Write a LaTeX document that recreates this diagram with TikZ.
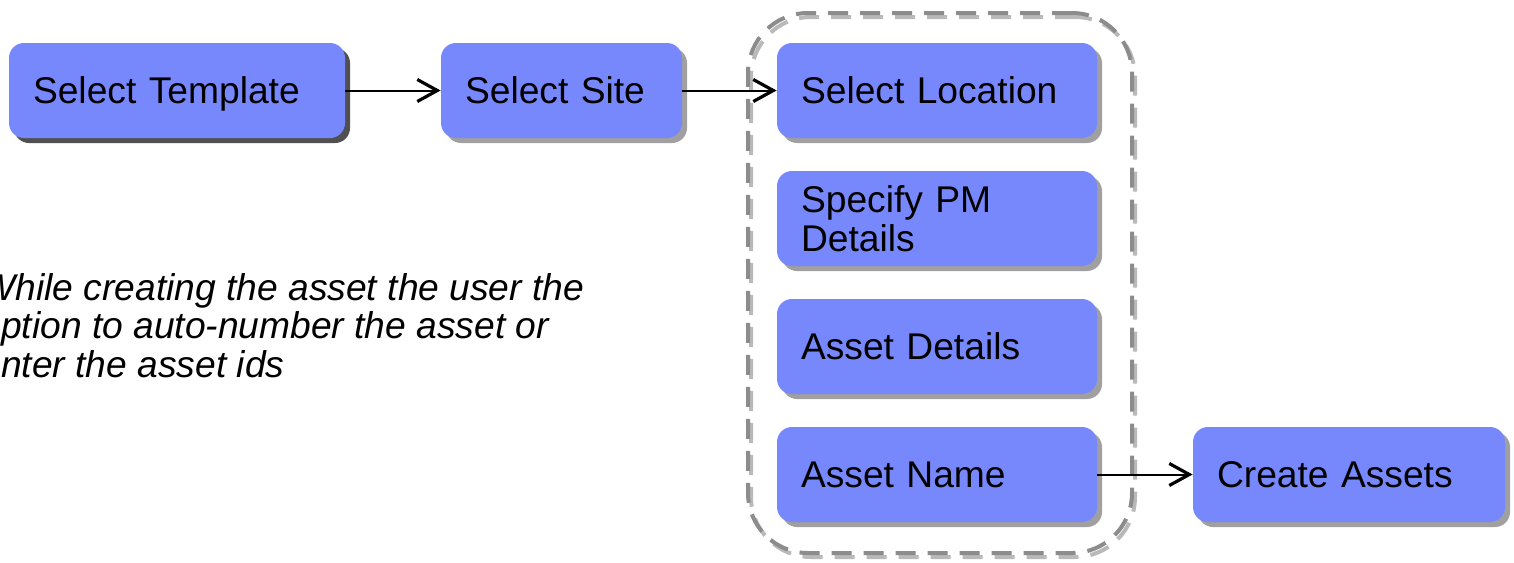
\documentclass[tikz,border=0pt]{standalone}
\usepackage{fontspec}
\setmainfont{Liberation Sans}
\usepackage{tikz}
\usetikzlibrary{arrows.meta,shadows}
\definecolor{boxblue}{RGB}{119,136,252}
\definecolor{shadowgray}{RGB}{160,160,160}
\definecolor{darkshadow}{RGB}{80,80,80}
\definecolor{dashgray}{RGB}{140,140,140}
\definecolor{dashshade}{RGB}{185,185,185}
\tikzset{
    stepbox/.style={fill=boxblue, rounded corners=7.5pt, minimum height=47.5pt,
        inner xsep=12pt, inner ysep=0pt, align=left,
        text height=13.3pt, text depth=0pt,
        font=\fontsize{18.6}{19.25}\selectfont,
        drop shadow={shadow xshift=2.5pt, shadow yshift=-2.5pt, fill=#1, opacity=1}},
    stepbox/.default=shadowgray,
    flow/.style={line width=1pt, -{Straight Barb[length=10pt,width=11pt,line width=1.6pt]}},
    groupbox/.style={draw=#1, line width=2pt, dash pattern=on 10pt off 6pt,
        rounded corners=30pt, minimum width=192pt, minimum height=270pt, inner sep=0pt},
    groupbox/.default=dashgray
}

\begin{document}
\begin{tikzpicture}[x=0.5pt,y=-0.5pt]
        \clip (0,0) rectangle (1514,562);
        % group of detail steps
        \node (grpshade) [groupbox=dashshade] at (943,287) {};
        \node (grp) [groupbox] at (940,283) {};

        \node (tmpl) [stepbox=darkshadow, text width=144pt] at (177,90.5) {Select Template};
        \node (site) [stepbox, text width=96.5pt] at (561.5,90.5) {Select Site};
        \node (loc) [stepbox, text width=136pt] at (937,90.5) {Select Location};
        \node (pm) [stepbox, text width=136pt, text depth=19.25pt] at (937,218.5) {Specify PM\\Details};
        \node (det) [stepbox, text width=136pt] at (937,346.5) {Asset Details};
        \node (name) [stepbox, text width=136pt] at (937,474.5) {Asset Name};
        \node (create) [stepbox, text width=132pt] at (1349,474.5) {Create Assets};

        % base of a multi-line node is its last line
        \node (note) [anchor=base west, align=left, inner sep=0pt,
            font=\fontsize{18.6}{19.25}\selectfont\itshape] at (-20,377)
            {While creating the asset the user the\\option to auto-number the asset or\\enter the asset ids};

        \draw[flow] (tmpl) -- (site);
        \draw[flow] (site) -- (loc);
        \draw[flow] (name) -- (create);
\end{tikzpicture}
\end{document}
